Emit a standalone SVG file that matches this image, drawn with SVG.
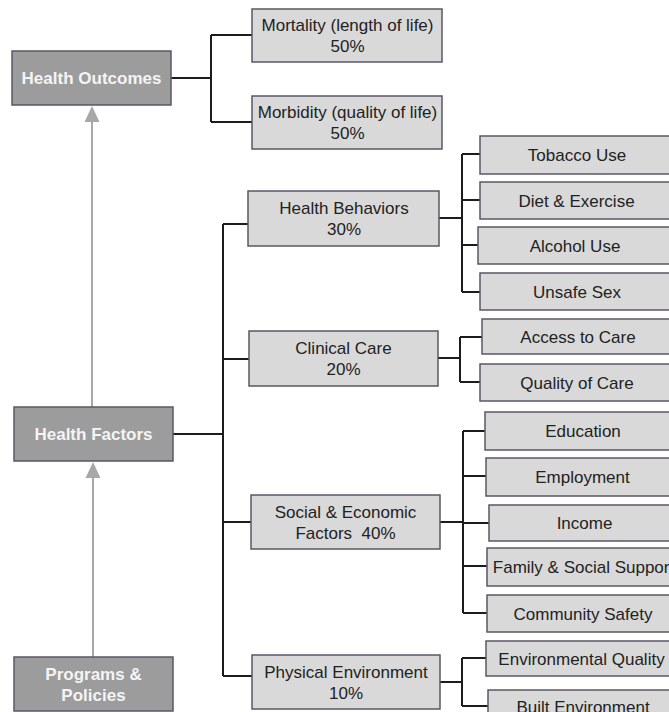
<svg xmlns="http://www.w3.org/2000/svg" width="669" height="712" viewBox="0 0 669 712">
<defs>
<style>
.dark{fill:#9c9c9c;stroke:#5b5566;stroke-width:1.5}
.light{fill:#d9d9d9;stroke:#5b5566;stroke-width:1.5}
.wt{font-family:"Liberation Sans",Arial,sans-serif;font-size:17px;font-weight:bold;fill:#f4f4f4;text-anchor:middle}
.bt{font-family:"Liberation Sans",Arial,sans-serif;font-size:17px;fill:#222;text-anchor:middle}
.con{fill:none;stroke:#1c1c1c;stroke-width:2}
.arr{fill:none;stroke:#a8a8a8;stroke-width:2}
.head{fill:#a8a8a8}
</style>
</defs>
<rect width="669" height="712" fill="#ffffff"/>

<g id="connectors">
<path class="con" d="M171,78H211M211,35V122M211,35H252M211,122H252"/>
<path class="con" d="M173,434H223M223,224V676M223,224H248M223,359H249M223,522H251M223,676H252"/>
<path class="con" d="M439,218H462M462,154V292M462,154H480M462,200H480M462,245H478M462,292H480"/>
<path class="con" d="M438,358H460M460,337V382M460,337H482M460,382H480"/>
<path class="con" d="M440,522H463M463,431V613M463,431H485M463,476H486M463,523H489M463,566H487M463,613H487"/>
<path class="con" d="M440,682H462M462,658V706M462,658H486M462,706H488"/>
<path class="arr" d="M92,407V120"/>
<polygon class="head" points="92,106 84.5,122 99.5,122"/>
<path class="arr" d="M93,657V476"/>
<polygon class="head" points="93,462 85.5,478 100.5,478"/>
</g>

<g id="health-outcomes"><rect class="dark" x="12" y="51" width="159" height="54"/><text class="wt" x="91.5" y="84">Health Outcomes</text></g>
<g id="health-factors"><rect class="dark" x="14" y="407" width="159" height="54"/><text class="wt" x="93.5" y="440">Health Factors</text></g>
<g id="programs-policies"><rect class="dark" x="14" y="657" width="159" height="54"/><text class="wt" x="93.5" y="680">Programs &amp;</text><text class="wt" x="93.5" y="701">Policies</text></g>

<g id="mortality"><rect class="light" x="252" y="9" width="190" height="53"/><text class="bt" x="347.5" y="31">Mortality (length of life)</text><text class="bt" x="347.5" y="52">50%</text></g>
<g id="morbidity"><rect class="light" x="252" y="96" width="190" height="53"/><text class="bt" x="347.5" y="118">Morbidity (quality of life)</text><text class="bt" x="347.5" y="139">50%</text></g>

<g id="health-behaviors"><rect class="light" x="248" y="191" width="191" height="55"/><text class="bt" x="344" y="214">Health Behaviors</text><text class="bt" x="344" y="235">30%</text></g>
<g id="clinical-care"><rect class="light" x="249" y="331" width="189" height="55"/><text class="bt" x="343.5" y="354">Clinical Care</text><text class="bt" x="343.5" y="375">20%</text></g>
<g id="social-economic"><rect class="light" x="251" y="495" width="189" height="54"/><text class="bt" x="345.5" y="518">Social &amp; Economic</text><text class="bt" x="345.5" y="539" xml:space="preserve">Factors  40%</text></g>
<g id="physical-environment"><rect class="light" x="252" y="655" width="188" height="54"/><text class="bt" x="346" y="677.5">Physical Environment</text><text class="bt" x="346" y="698.5">10%</text></g>

<g id="tobacco-use"><rect class="light" x="480" y="136" width="200" height="38"/><text class="bt" x="577" y="161">Tobacco Use</text></g>
<g id="diet-exercise"><rect class="light" x="480" y="182" width="200" height="37"/><text class="bt" x="576.5" y="206.5">Diet &amp; Exercise</text></g>
<g id="alcohol-use"><rect class="light" x="478" y="227" width="202" height="37"/><text class="bt" x="575" y="251.5">Alcohol Use</text></g>
<g id="unsafe-sex"><rect class="light" x="480" y="273" width="200" height="37"/><text class="bt" x="577" y="297.5">Unsafe Sex</text></g>
<g id="access-to-care"><rect class="light" x="482" y="319" width="198" height="35"/><text class="bt" x="578" y="342.5">Access to Care</text></g>
<g id="quality-of-care"><rect class="light" x="480" y="364" width="200" height="37"/><text class="bt" x="577" y="388.5">Quality of Care</text></g>
<g id="education"><rect class="light" x="485" y="412" width="200" height="38"/><text class="bt" x="583" y="437">Education</text></g>
<g id="employment"><rect class="light" x="486" y="458" width="200" height="38"/><text class="bt" x="582.5" y="483">Employment</text></g>
<g id="income"><rect class="light" x="489" y="505" width="200" height="36"/><text class="bt" x="584.5" y="529">Income</text></g>
<g id="family-social-support"><rect class="light" x="487" y="548" width="200" height="38"/><text class="bt" x="583.5" y="573">Family &amp; Social Support</text></g>
<g id="community-safety"><rect class="light" x="487" y="595" width="200" height="37"/><text class="bt" x="583" y="619.5">Community Safety</text></g>
<g id="environmental-quality"><rect class="light" x="486" y="641" width="200" height="35"/><text class="bt" x="581.5" y="664.5">Environmental Quality</text></g>
<g id="built-environment"><rect class="light" x="488" y="690" width="200" height="38"/><text class="bt" x="583" y="713">Built Environment</text></g>
</svg>
